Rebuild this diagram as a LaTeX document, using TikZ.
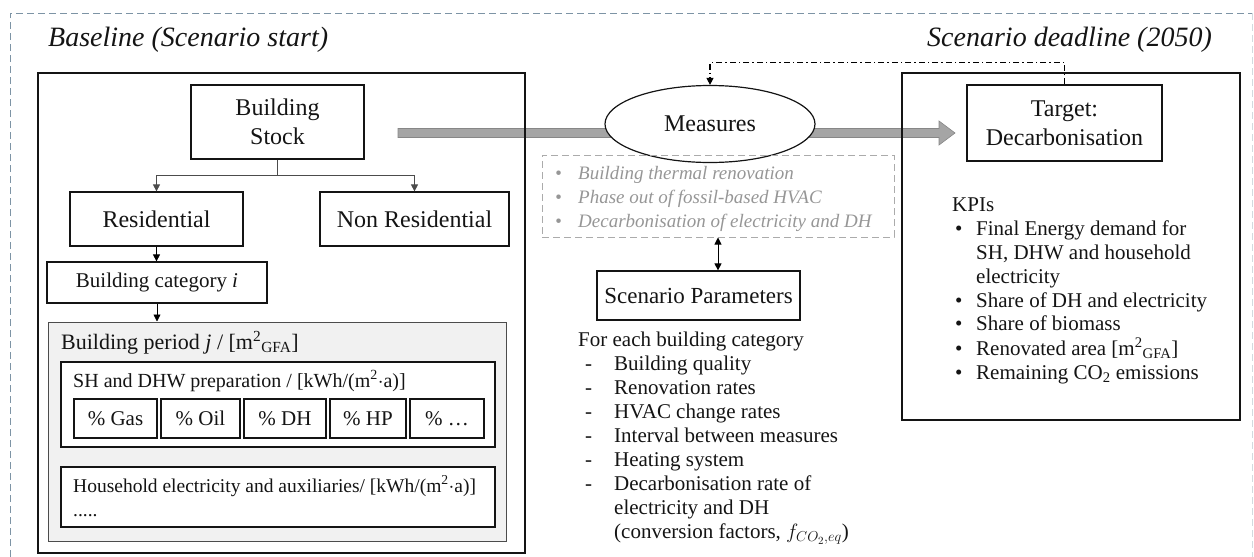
\documentclass[tikz,border=0pt]{standalone}
\usepackage{fontspec}
\setmainfont{Liberation Serif}
\usetikzlibrary{shapes.geometric,arrows.meta,calc}
\definecolor{outerc}{RGB}{125,148,165}
\definecolor{arrfill}{RGB}{165,165,165}
\definecolor{arrdraw}{RGB}{135,135,135}
\definecolor{mgray}{RGB}{150,150,150}
\definecolor{pfill}{RGB}{241,241,241}
\definecolor{txt}{RGB}{20,20,20}
\begin{document}
\begin{tikzpicture}[x=1pt,y=-1pt,
  box/.style={draw=txt,line width=1.2pt,inner sep=0pt,align=center,text=txt},
  bigbox/.style={draw=txt,line width=1.4pt},
  lab/.style={font=\fontsize{24}{29}\selectfont},
  sml/.style={font=\fontsize{21}{24}\selectfont},
  ttl/.style={font=\fontsize{28}{32}\selectfont\itshape,text=txt,inner sep=0pt},
  tip/.style={-{Triangle[length=7pt,width=7pt]}},
  branch/.style={draw=black!70,line width=0.8pt},
  dashdot/.style={line width=1.1pt,dash pattern=on 6pt off 3pt on 1.5pt off 3pt}]
\useasboundingbox (0,0) rectangle (1254,557);
% outer dashed border
\draw[outerc,line width=1pt,dash pattern=on 7pt off 4pt] (10,557) -- (10,13) -- (1252,13);
\draw[outerc!35,line width=0.8pt,dash pattern=on 7pt off 4pt] (1252,13) -- (1252,557);
% titles
\node[ttl,anchor=west] (tl) at (48,40) {Baseline (Scenario start)};
\node[ttl,anchor=east] (tr) at (1212,40) {Scenario deadline (2050)};
% big arrow
\coordinate (arS) at (398,133);
\coordinate (arT) at (955,133);
\filldraw[fill=arrfill,draw=arrdraw,line width=0.6pt]
  ($(arS)+(0,-4.5)$) -- ($(arT)+(-16,-4.5)$) -- ($(arT)+(-16,-12)$) -- (arT)
  -- ($(arT)+(-16,12)$) -- ($(arT)+(-16,4.5)$) -- ($(arS)+(0,4.5)$) -- cycle;
% left big box
\node[bigbox,minimum width=487pt,minimum height=480pt,inner sep=0pt] (lb) at (281.5,313) {};
% period box
\node[draw=black!70,fill=pfill,line width=1pt,minimum width=458pt,minimum height=219pt,inner sep=0pt] (per) at (277,431.5) {};
\node[anchor=west,inner sep=0pt,font=\fontsize{22}{26}\selectfont,text=txt] (pert) at (61,343) {Building period \textit{j} / [m\textsuperscript{2}\textsubscript{GFA}]};
\node[box,fill=white,minimum width=434pt,minimum height=85pt] (sh) at (278,404.5) {};
\node[anchor=west,inner sep=0pt,font=\fontsize{20}{24}\selectfont,text=txt] (sht) at (73,381) {SH and DHW preparation / [kWh/(m\textsuperscript{2}$\cdot$a)]};
\node[box,sml,minimum width=83pt,minimum height=39pt] (gas) at (115.5,418.5) {\% Gas};
\node[box,sml,minimum width=79pt,minimum height=39pt] (oil) at (200.5,418.5) {\% Oil};
\node[box,sml,minimum width=82pt,minimum height=39pt] (dh) at (285,418.5) {\% DH};
\node[box,sml,minimum width=76pt,minimum height=39pt] (hp) at (368,418.5) {\% HP};
\node[box,sml,minimum width=74pt,minimum height=39pt] (oth) at (447,418.5) {\% \dots};
\node[box,fill=white,minimum width=434pt,minimum height=60pt] (hh) at (278,497) {};
\node[anchor=west,inner sep=0pt,font=\fontsize{19.5}{24}\selectfont,text=txt] (hht) at (73,486) {Household electricity and auxiliaries/ [kWh/(m\textsuperscript{2}$\cdot$a)]};
\node[anchor=base west,inner sep=0pt,font=\fontsize{19.5}{24}\selectfont,text=txt] (hhd) at (73,516) {.....};
% stock tree
\node[box,lab,minimum width=173pt,minimum height=74pt] (bs) at (277.5,122) {Building\\Stock};
\node[box,lab,minimum width=173pt,minimum height=54pt] (res) at (156.5,219) {Residential};
\node[box,lab,minimum width=189pt,minimum height=54pt] (nres) at (414.5,219) {Non Residential};
\node[box,sml,minimum width=220pt,minimum height=41pt] (cat) at (157,282.5) {Building category \textit{i}};
\draw[branch] (bs.south) -- ++(0,16) coordinate (bj);
\draw[branch,tip] (bj) -| (res.north);
\draw[branch,tip] (bj) -| (nres.north);
\draw[line width=0.8pt,tip] (res.south) -- (res.south |- cat.north);
\draw[line width=0.8pt,tip] (cat.south) -- (cat.south |- per.north);
% right big box
\node[bigbox,minimum width=338pt,minimum height=347pt,inner sep=0pt] (rb) at (1071,246.5) {};
\node[box,lab,minimum width=195pt,minimum height=76pt] (tg) at (1064.5,123) {Target:\\Decarbonisation};
\node[anchor=north west,inner sep=0pt,font=\fontsize{21}{23.8}\selectfont,text=txt] (kpi) at (952,195) {%
\begin{tabular}{@{}p{24pt}@{}l@{}}
\multicolumn{2}{@{}l@{}}{KPIs}\\
\hspace{3pt}\textbullet & Final Energy demand for\\
 & SH, DHW and household\\
 & electricity\\
\hspace{3pt}\textbullet & Share of DH and electricity\\
\hspace{3pt}\textbullet & Share of biomass\\
\hspace{3pt}\textbullet & Renovated area [m\textsuperscript{2}\textsubscript{GFA}]\\
\hspace{3pt}\textbullet & Remaining CO\textsubscript{2} emissions
\end{tabular}};
% measures
\node[draw=txt,fill=white,line width=1.2pt,ellipse,minimum width=210pt,minimum height=77pt,inner sep=0pt,lab,text=txt] (me) at (710,124) {Measures};
\draw[dashdot,tip] (tg.north) -- ++(0,-22) -| (me.north);
\node[draw=mgray!80,dash pattern=on 7pt off 4pt,line width=1pt,minimum width=352pt,minimum height=82pt,inner sep=0pt] (ml) at (718,196) {};
\node[anchor=north west,inner sep=0pt,font=\fontsize{19}{24}\selectfont\itshape,text=mgray] (mlt) at (552,162) {%
\begin{tabular}{@{}p{26pt}@{}l@{}}
\hspace{3pt}\textbullet & Building thermal renovation\\
\hspace{3pt}\textbullet & Phase out of fossil-based HVAC\\
\hspace{3pt}\textbullet & Decarbonisation of electricity and DH
\end{tabular}};
% scenario parameters
\node[box,font=\fontsize{23}{28}\selectfont,minimum width=203pt,minimum height=49pt] (sp) at (698.5,295.5) {Scenario Parameters};
\draw[line width=0.9pt,{Triangle[length=7pt,width=7pt]}-{Triangle[length=7pt,width=7pt]}] (ml.south) -- (ml.south |- sp.north);
\node[anchor=north west,inner sep=0pt,font=\fontsize{21}{24.1}\selectfont,text=txt] (spl) at (578,329) {%
\begin{tabular}{@{}p{36pt}@{}l@{}}
\multicolumn{2}{@{}l@{}}{For each building category}\\
\hspace{7pt}- & Building quality\\
\hspace{7pt}- & Renovation rates\\
\hspace{7pt}- & HVAC change rates\\
\hspace{7pt}- & Interval between measures\\
\hspace{7pt}- & Heating system\\
\hspace{7pt}- & Decarbonisation rate of\\
 & electricity and DH\\
 & (conversion factors, $f_{CO_2,eq}$)
\end{tabular}};
\end{tikzpicture}
\end{document}
